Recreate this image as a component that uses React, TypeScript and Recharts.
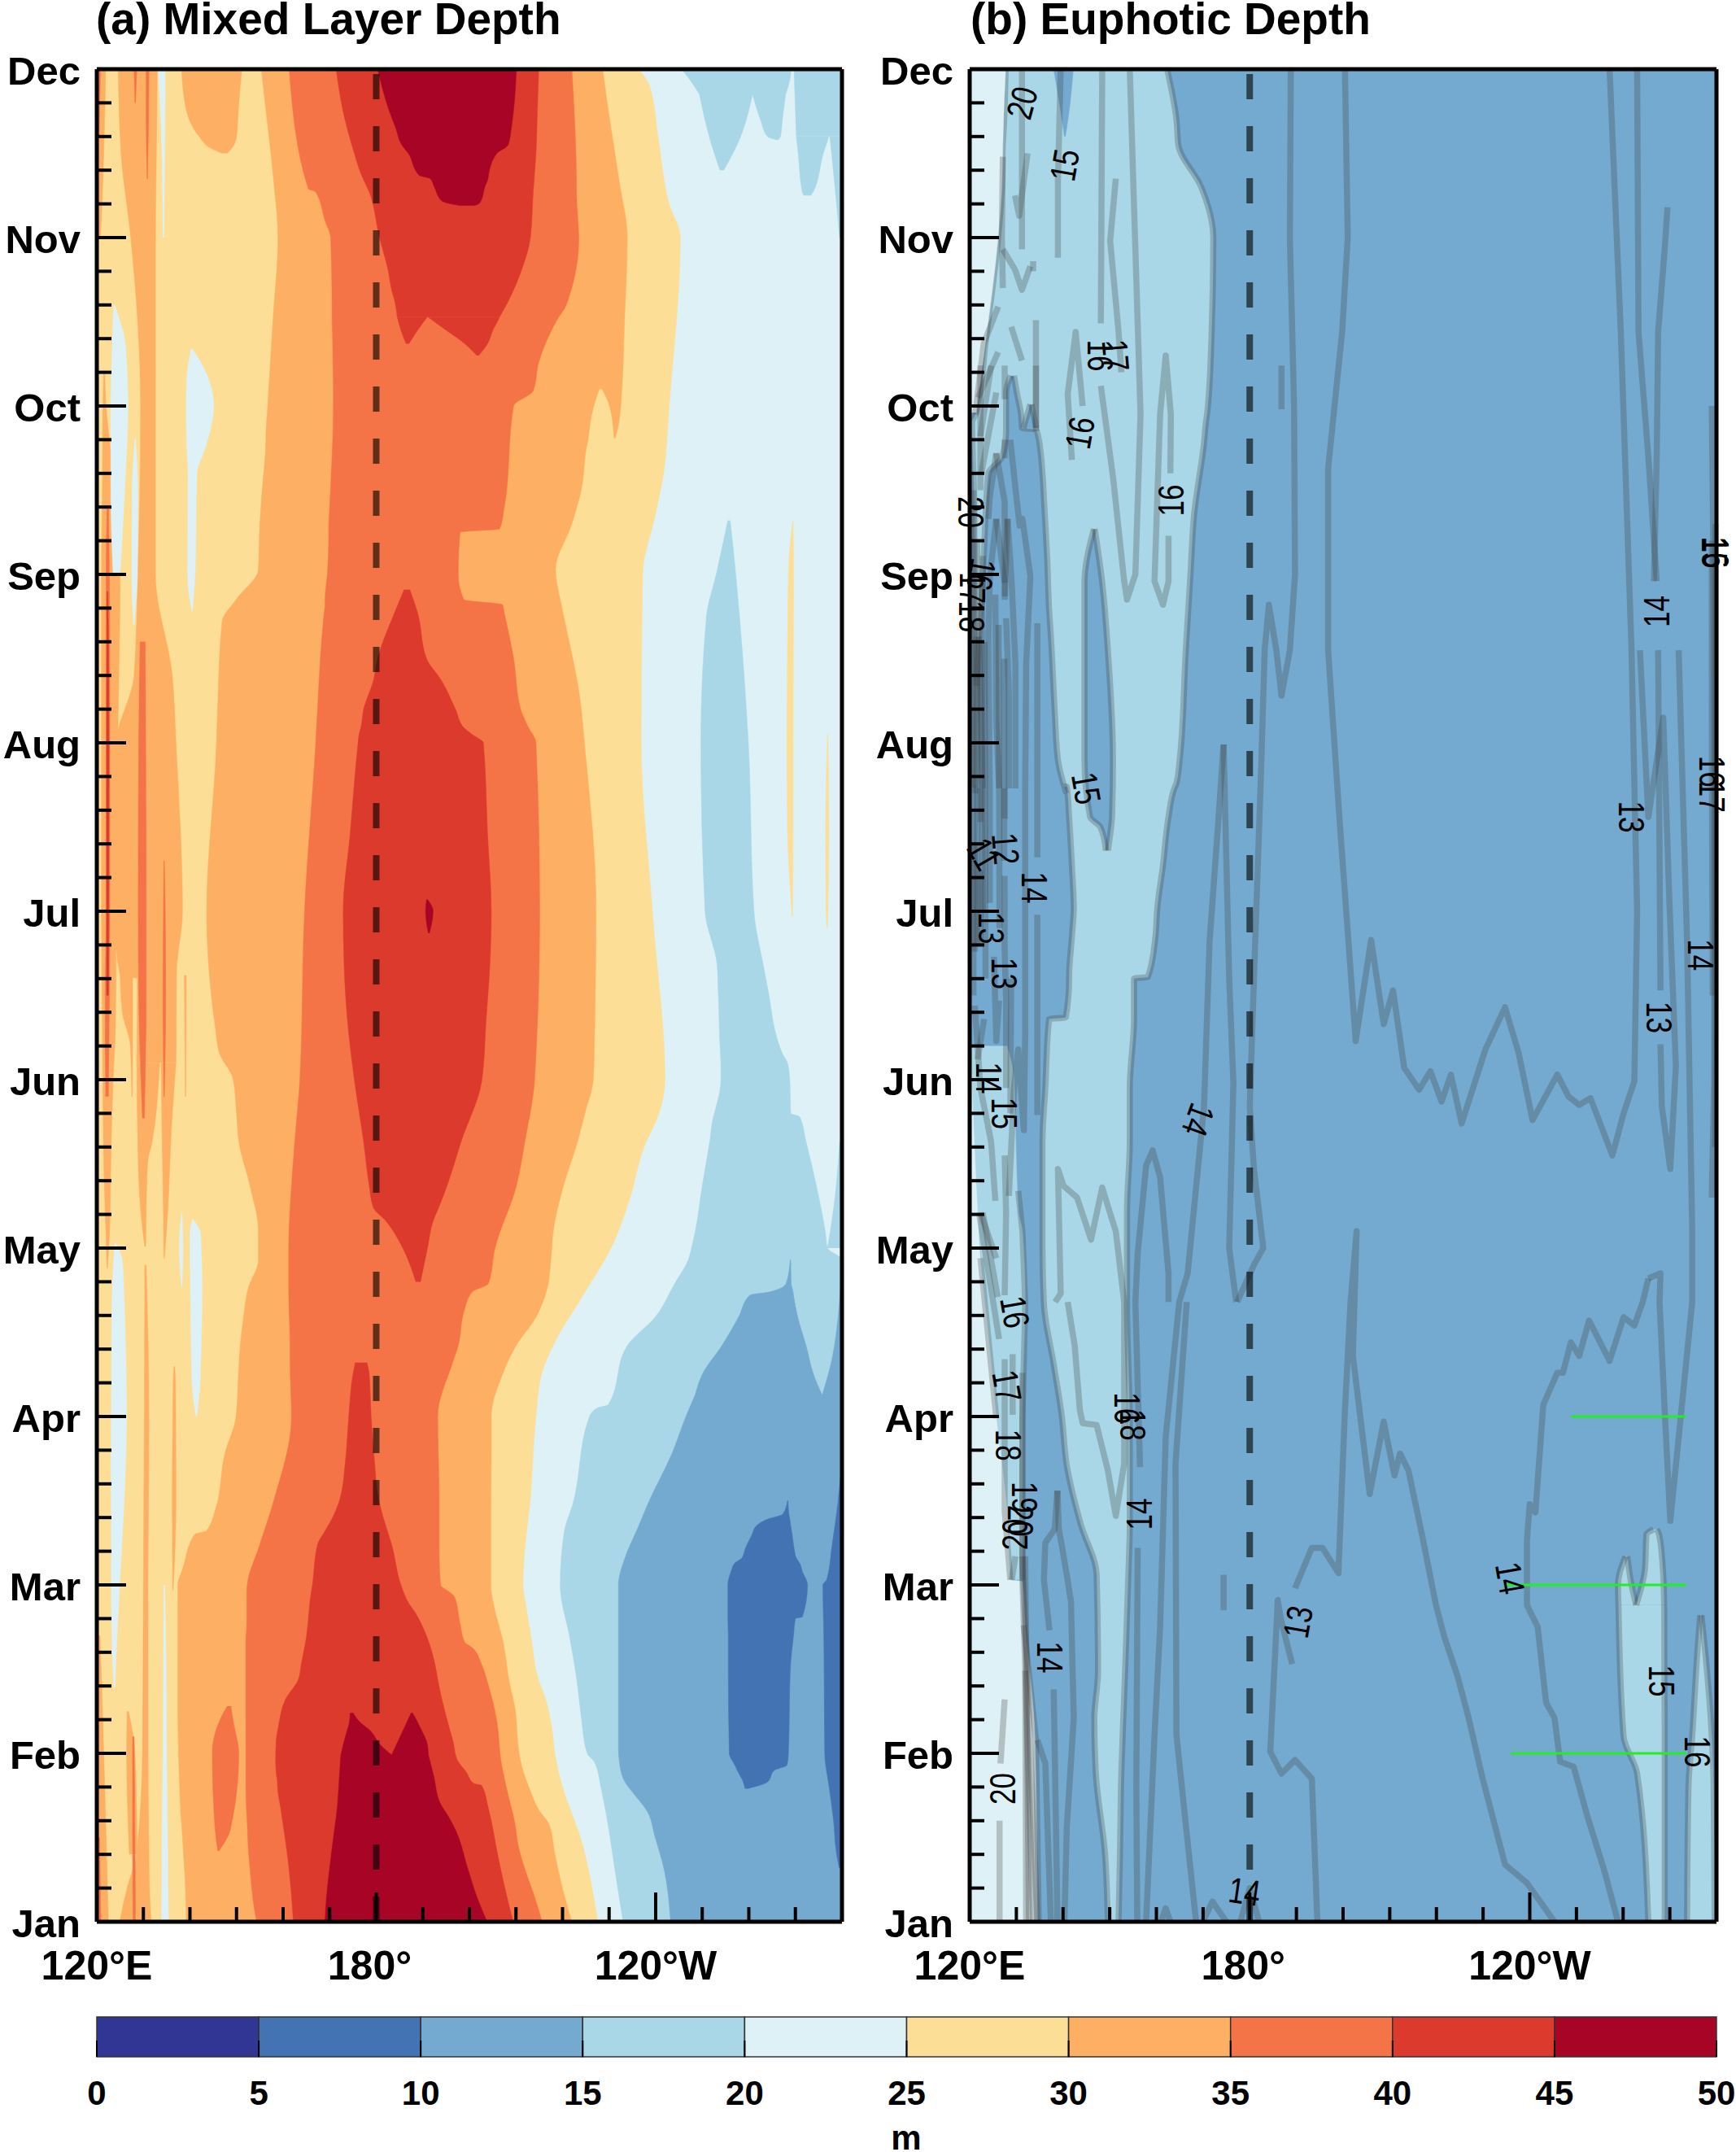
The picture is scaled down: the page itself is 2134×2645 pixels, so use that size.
import React from 'react';
import { Area, Bar, BarChart, ComposedChart, Line, XAxis, YAxis } from 'recharts';

type Span = [number, number, number];
type Pt = [number, number];

const monthNames = ['Jan', 'Feb', 'Mar', 'Apr', 'May', 'Jun', 'Jul', 'Aug', 'Sep', 'Oct', 'Nov', 'Dec'];
const monthTicks = [1, 1.2, 1.4, 1.6, 1.8, 2, 2.2, 2.4, 2.6, 2.8, 3, 3.2, 3.4, 3.6, 3.8, 4, 4.2, 4.4, 4.6, 4.8, 5, 5.2, 5.4, 5.6, 5.8, 6, 6.2, 6.4, 6.6, 6.8, 7, 7.2, 7.4, 7.6, 7.8, 8, 8.2, 8.4, 8.6, 8.8, 9, 9.2, 9.4, 9.6, 9.8, 10, 10.2, 10.4, 10.6, 10.8, 11, 11.2, 11.4, 11.6, 11.8, 12];
const lonTicks = [120, 130, 140, 150, 160, 170, 180, 190, 200, 210, 220, 230, 240, 250, 260, 270, 280];
const lonLabels: Record<number, string> = { 120: '120°E', 180: '180°', 240: '120°W' };

const barEdges = [0, 5, 10, 15, 20, 25, 30, 35, 40, 45, 50];
const barColors = ['#313594', '#4473b3', '#74aad0', '#a9d7e7', '#def1f7', '#fcde96', '#fdb063', '#f57447', '#dc3a2c', '#a80526'];
const [, C5, C10, C15, C20, C25, C30, C35, C40, C45] = barColors;

// panel (a): each contour patch is [month, west lon, east lon]
const mldFull: Span[] = [[1, 120, 280], [12, 120, 280]];
const mld25: Span[] = [[1, 120, 227.6], [1.22, 120, 226.2], [1.38, 120, 225], [1.53, 120, 223.5], [1.67, 120, 221.6], [1.82, 120, 219.8], [1.96, 120, 218.6], [2.15, 120, 217.7], [2.31, 120, 216.5], [2.45, 120, 214.7], [2.7, 120, 213.2], [2.9, 120, 212], [3, 120, 211.5], [3.24, 120, 212], [3.48, 120, 213], [4, 120, 214.3], [4.25, 120, 215.5], [4.45, 120, 218.5], [4.72, 120, 224.4], [5, 120, 230.4], [5.3, 120, 234.5], [5.6, 120, 237.5], [5.8, 120, 240.7], [6, 120, 242], [7, 120, 239.3], [8, 120, 236.9], [9, 120, 237.2], [9.35, 120, 239.9], [9.6, 120, 241.7], [10, 120, 242.9], [11, 120, 245.3], [11.2, 120, 242.9], [11.6, 120, 240.5], [11.9, 120, 238.7], [12, 120, 236.3]];
const mld30: Span[] = [[1, 139.2, 222], [1.22, 139, 219.8], [1.41, 138.6, 218.3], [1.58, 138.2, 217.1], [1.66, 138, 215], [1.79, 137.8, 212.9], [1.95, 137.6, 211], [2.06, 137.5, 210.4], [2.25, 137.4, 209.9], [2.42, 137.4, 208.6], [2.68, 137.4, 207.1], [2.87, 137.4, 205.3], [3, 137.4, 204.6], [3.1, 138.5, 204.6], [3.3, 141, 204.6], [3.32, 143.5, 204.6], [3.45, 145.5, 204.6], [3.78, 147.5, 204.7], [4, 149.9, 204.7], [4.25, 150.4, 207.1], [4.42, 150.8, 210], [4.59, 151.5, 214.3], [4.76, 152.5, 216.7], [4.93, 154.7, 217.5], [5.1, 154.7, 218], [5.37, 152.9, 220.2], [5.63, 150.5, 223.2], [5.8, 150, 224.8], [6, 149.3, 226.6], [6.16, 146.3, 226.8], [6.3, 145.5, 226.9], [7, 143.6, 227.2], [8, 145.7, 224.7], [8.25, 146, 223.8], [8.72, 146.9, 220.5], [8.85, 149.9, 219.5], [9.03, 154.7, 218.5], [9.3, 155, 222], [9.5, 155.5, 224], [9.8, 156.3, 225.5], [9.81, 156.3, 231.3], [10, 156.7, 232.5], [10.5, 157.8, 233.3], [11, 158.9, 233.9], [11.33, 158, 232.2], [11.76, 156.3, 229.8], [12, 155.3, 228.6]];
const mld30Patch: Span[] = [[11.5, 147, 148], [11.53, 144.5, 149], [11.6, 142, 150], [11.76, 139.2, 150.4], [12, 138.2, 151.1]];
const mld30West: Span[] = [[6.1, 128.6, 137], [6.6, 128.7, 137.1], [6.62, 125, 137.1], [7, 123.7, 138.4], [8, 124.2, 137], [8.4, 128, 136.2], [9, 128.8, 132.6], [10, 129.4, 132.6], [11, 127.3, 132.6], [11.5, 125.2, 132.8], [12, 124.6, 133]];
const mld30Leg: Span[] = [[5.9, 127.5, 127.6], [6.2, 127.2, 127.7], [6.4, 125.5, 127.7], [6.62, 125, 127.7]];
const mld30LobeA: Span[] = [[5.01, 130.3, 130.5], [5.2, 129.5, 130.6], [5.5, 128.9, 130.9], [5.65, 128.8, 132], [6, 128.6, 133.3], [6.1, 128.6, 133.5]];
const mld30LobeB: Span[] = [[4.94, 134.4, 134.5], [5.2, 134.3, 135.2], [5.7, 134, 136], [6.1, 133.8, 137]];
const mld30Jan: Span[] = [[1, 124.9, 131.7], [1.2, 126.5, 131.3], [1.4, 128.5, 131.2], [2, 129.8, 131], [3, 130, 131], [4, 130.2, 131.2], [4.9, 130.3, 130.6]];
const mld30JanLobe: Span[] = [[1.4, 127, 128.7], [2, 126.4, 128.2], [2.25, 126.5, 126.8]];
const mld30Edge: Span[] = [[4.88, 122.2, 122.3], [5.14, 121.9, 122.8], [5.5, 121.5, 123], [6, 121.3, 123.5], [6.3, 121.2, 124], [7, 121, 124.2], [8, 121, 124.5], [9, 121, 125], [9.5, 121.2, 124], [10, 121.3, 122], [10.2, 121.5, 121.7]];
const mld30EdgeJan: Span[] = [[1, 120.2, 122.5], [1.5, 120.2, 122], [2, 120.3, 121.5], [2.7, 120.3, 120.7]];
const mld30EdgeDec: Span[] = [[11, 120.3, 120.8], [11.5, 120.2, 121.5], [12, 120.2, 121.9]];
const mld30Sliver: Span[] = [[2.97, 136.3, 136.4], [3.5, 136.2, 137], [4.2, 136.4, 136.9], [4.3, 136.6, 136.7]];
const mld30Sliver2: Span[] = [[5.9, 139, 139.1], [6.62, 138.8, 139.2]];
const mld25Finger: Span[] = [[9.8, 225.6, 231], [10, 226.8, 230], [10.1, 228, 228.4]];
const mld35: Span[] = [[1, 154.3, 215.6], [1.14, 153.5, 214.1], [1.28, 153, 212.3], [1.45, 152.5, 210.5], [1.58, 152.3, 209.8], [1.79, 152, 208], [1.95, 152, 206.8], [2.19, 152, 205.9], [2.43, 152, 203.8], [2.53, 152, 202.6], [2.63, 152, 200.5], [2.66, 152, 199], [2.77, 152.2, 198], [2.93, 152.2, 196.8], [2.96, 152.2, 195.6], [3, 152.3, 193.8], [3.24, 155, 193.5], [3.5, 158, 193.5], [4, 161.8, 193.2], [4.32, 161.5, 196.4], [4.42, 161.5, 197.6], [4.62, 161.3, 198.8], [4.74, 161.2, 200.6], [4.79, 161.2, 204.1], [5, 161.2, 205.5], [5.37, 161.8, 210.1], [5.63, 162.5, 211.9], [6, 163.6, 214], [7, 164.6, 215.1], [8, 167, 214.3], [8.1, 167.2, 212.5], [8.2, 167.4, 211], [8.5, 168, 209.5], [8.77, 168.8, 207.5], [8.82, 169, 207.1], [8.85, 169, 198.8], [9, 169.5, 197.6], [9.25, 169.8, 198], [9.27, 169.8, 206.5], [9.4, 170, 207.5], [10, 170.8, 209.5], [10.09, 170.8, 213.7], [10.26, 170.7, 214.9], [10.43, 170.6, 217.3], [10.52, 170.5, 219], [10.6, 170.5, 220.8], [11, 170.2, 223.5], [11.1, 169, 223.3], [11.27, 167, 223], [11.29, 165.4, 223], [12, 161.3, 222]];
const mld35Blob: Span[] = [[1.42, 146, 146.2], [1.55, 145.4, 148.7], [2, 144.8, 150.5], [2.19, 146.3, 149.3], [2.28, 148, 148.8]];
const mld35Stripe: Span[] = [[5.77, 129.8, 130.2], [6.5, 129, 130.6], [7, 128.9, 130.6], [8, 129, 130.5], [8.6, 129.3, 130.4]];
const mld35Stripe2: Span[] = [[5.9, 134.4, 134.5], [6.5, 134.2, 134.8], [7, 134.3, 134.7], [7.3, 134.4, 134.5]];
const mld35Edge: Span[] = [[5.9, 121.9, 122.5], [6.5, 121.8, 122.7], [7, 122, 122.8], [8, 122, 122.8], [9, 122, 122.7], [9.4, 122.2, 122.5]];
const mld35EdgeJan: Span[] = [[1, 120.2, 120.9], [1.5, 120.2, 120.6]];
const mld35EdgeDec: Span[] = [[11.6, 120.2, 120.5], [12, 120.2, 120.8]];
const mld35Jan: Span[] = [[1, 127.8, 128.3], [1.5, 127.7, 128.2], [2.1, 127.7, 128]];
const mld35DecA: Span[] = [[11.35, 130.8, 130.9], [11.7, 130.6, 131.1], [12, 130.6, 131.2]];
const mld35DecB: Span[] = [[11.8, 128.2, 128.3], [12, 128, 128.6]];
const mld40Core: Span[] = [[6.5, 122.1, 122.5], [8, 122.1, 122.6], [8.9, 122.2, 122.4]];
const mld40Jan: Span[] = [[1, 162.2, 209.4], [1.19, 161.7, 207.7], [1.38, 161, 206.2], [1.67, 159.5, 204.1], [1.81, 158.8, 202.6], [1.82, 158.8, 201], [1.89, 158.5, 199.3], [1.96, 158.4, 197.4], [2.07, 158.5, 196.5], [2.16, 159, 195.6], [2.32, 160.5, 194.1], [2.44, 163.3, 193.2], [2.53, 163.9, 192.6], [2.69, 165, 190.9], [2.82, 165.5, 188.7], [2.91, 165.8, 186.6], [3, 166.3, 185.3], [3.24, 167.4, 183.3], [3.32, 169, 182.4], [3.41, 170.8, 181.4], [3.51, 172.2, 180.5], [3.74, 173.4, 179.6], [4, 174.1, 178.9], [4.25, 175, 178.5], [4.32, 175.5, 178]];
const mld40Mid: Span[] = [[4.8, 188.5, 189.5], [5, 185.7, 191], [5.16, 182.1, 192.2], [5.24, 179.4, 193.4], [5.37, 178.5, 195.2], [5.63, 177.3, 198.2], [6, 175.3, 202.7], [6.36, 173.8, 203.6], [6.68, 173.1, 204.4], [7, 172.9, 204.7], [7.46, 174.4, 203.9], [8, 176.1, 203], [8.05, 176.3, 200.6], [8.09, 176.7, 198.8], [8.2, 177.3, 197], [8.37, 179.4, 194], [8.5, 180.3, 190.8], [8.77, 183.9, 188.9], [8.91, 186, 187.2]];
const mld40Dec: Span[] = [[10.53, 184.5, 206.5], [10.62, 184, 208.3], [10.69, 183.3, 209.5], [10.8, 182.6, 211.1], [11, 180.7, 213.1], [11.27, 178.5, 213.7], [11.38, 176.7, 214], [11.5, 175.3, 214.3], [11.76, 172.8, 214.6], [12, 171.4, 214.9]];
const mld40DecA: Span[] = [[10.37, 186.4, 187], [10.45, 185.3, 188.9], [10.53, 184.5, 191]];
const mld40DecB: Span[] = [[10.3, 201.6, 202], [10.37, 199, 203.9], [10.46, 194.5, 205.2], [10.5, 192.5, 206], [10.53, 191, 206.5]];
const mld45Jan: Span[] = [[1, 169, 203.8], [1.14, 169.3, 201.7], [1.32, 170, 199.6], [1.54, 171, 197.1], [1.62, 171.4, 195.6], [1.7, 171.7, 193.8], [1.87, 172.1, 192.3], [1.99, 172.4, 191.2]];
const mld45JanA: Span[] = [[1.99, 172.4, 183.3], [2.05, 172.9, 180.9], [2.14, 173.8, 178.5], [2.18, 174.2, 176.7], [2.24, 174.4, 175]];
const mld45JanB: Span[] = [[1.99, 183.3, 191.2], [2.05, 184.3, 191], [2.15, 186, 189.5], [2.24, 187.5, 187.8]];
const mld45Jul: Span[] = [[6.87, 191.2, 191.4], [7, 190.6, 192.2], [7.07, 190.8, 191]];
const mld45Dec: Span[] = [[11.19, 198, 201], [11.2, 196, 202], [11.22, 194, 202.5], [11.3, 192.5, 203.3], [11.35, 191.6, 204], [11.37, 189.2, 204.1], [11.5, 186.9, 205.9], [11.55, 185.5, 208.3], [11.65, 184.2, 209], [11.76, 182.7, 209.5], [12, 180.3, 210.1]];
const mld20A: Span[] = [[2.39, 123.7, 123.9], [2.6, 123.3, 124.2], [3, 123.1, 124.9], [3.4, 123.1, 125.7], [3.72, 123, 126.2], [4, 123.1, 126.4], [4.59, 123.2, 126], [4.92, 123.6, 125.5], [5.03, 123.9, 124]];
const mld20B: Span[] = [[4, 141.3, 141.5], [4.22, 140.4, 142.2], [4.77, 140.1, 142.6], [5.08, 140, 142.3], [5.17, 140.5, 140.7]];
const mld20C: Span[] = [[4.77, 138.2, 138.3], [5, 137.7, 138.5], [5.21, 138.2, 138.3]];
const mld20D: Span[] = [[9, 123.5, 125], [9.5, 123, 126], [10, 123, 126.7], [10.35, 123.3, 126.2], [10.6, 123.6, 123.8]];
const mld20E: Span[] = [[8.7, 127.9, 128], [9, 127.5, 128.7], [9.5, 127.6, 128.8], [9.81, 128.2, 128.3]];
const mld20F: Span[] = [[8.78, 140.4, 140.5], [9, 139.5, 141.1], [9.6, 139.6, 141.5], [9.76, 139.3, 143.4], [10, 139.2, 145.1], [10.16, 139.3, 144], [10.34, 140.3, 140.5]];
const mld20G: Span[] = [[11, 134.2, 134.4], [11.5, 134, 134.6], [12, 133.2, 134.7]];
const mld20H: Span[] = [[1, 133.9, 135.4], [1.5, 134, 135.2], [2, 134.2, 135], [2.5, 134.3, 134.9], [3, 134.4, 134.6]];
const mld25SliverA: Span[] = [[6.97, 269.3, 269.4], [7.5, 268.3, 269.5], [8, 268.2, 269.5], [9, 268.5, 269.6], [9.32, 269.4, 269.5]];
const mld25SliverB: Span[] = [[6.9, 276.8, 276.9], [7, 276.6, 277], [7.5, 276.5, 277.2], [8.05, 276.9, 277]];
const mld15: Span[] = [[1, 233, 280], [1.3, 231.3, 280], [1.62, 229.5, 280], [1.79, 228.3, 280], [1.95, 226.8, 280], [2, 225.3, 280], [2.22, 224, 280], [2.43, 223.1, 280], [2.68, 221.6, 280], [3, 219.5, 280], [3.32, 220.4, 280], [3.48, 222.2, 280], [4, 225.8, 280], [4.05, 227.4, 280], [4.07, 229.8, 280], [4.42, 233.9, 280], [4.59, 239.9, 280], [4.79, 244.1, 280], [4.93, 247, 280], [5, 247.7, 276.9], [5.1, 248.5, 276.4], [5.37, 250, 274.5], [5.63, 251.6, 272.3], [5.78, 252.4, 270.9], [5.8, 252.6, 269], [6, 254, 268.8], [6.1, 254, 268.3], [6.15, 253.9, 267.3], [6.55, 253.4, 264], [6.68, 253.2, 263.1], [7, 250.6, 261.1], [8, 249.7, 259.9], [8.75, 250.9, 258], [9, 253, 257.2], [9.32, 255.5, 256]];
const mld15Wedge: Span[] = [[5, 276.9, 280], [5.3, 278.5, 280], [5.63, 279.5, 280]];
const mld15Dec: Span[] = [[11.85, 249.4, 267.9], [11.95, 247, 268.9], [12, 245.6, 269.1]];
const mld15DecA: Span[] = [[11.4, 253.8, 254.6], [11.57, 251.8, 257.8], [11.85, 249.4, 260.8]];
const mld15DecB: Span[] = [[11.58, 265.9, 266.3], [11.6, 264, 266.8], [11.7, 262.5, 267.2], [11.85, 260.8, 267.9]];
const mld15DecC: Span[] = [[11.6, 270.2, 280], [12, 269.7, 280]];
const mld15DecD: Span[] = [[11.25, 271.8, 273.3], [11.27, 271.5, 273.8], [11.5, 270.6, 276], [11.6, 270.2, 277.2]];
const mld15DecE: Span[] = [[11, 279.5, 280], [11.3, 278.5, 280], [11.6, 277.4, 280]];
const mld10: Span[] = [[1, 243.2, 280], [1.3, 241.9, 280], [1.51, 239.8, 280], [1.65, 238.3, 280], [1.77, 235, 280], [1.83, 233.4, 280], [1.95, 232.2, 280], [2.03, 232, 280], [3, 232, 280], [3.16, 233.4, 280], [3.34, 236.2, 280], [3.48, 238.3, 280], [3.78, 243.5, 280], [4, 246.5, 280], [4.13, 248.5, 280]];
const mld10A: Span[] = [[4.13, 248.5, 275.7], [4.25, 250, 273.9], [4.42, 254.2, 272.3], [4.59, 257.8, 270.5], [4.72, 260.2, 269.6], [4.74, 264.5, 269.5], [4.79, 268, 269.1], [4.93, 268.9, 269]];
const mld10B: Span[] = [[4.13, 275.8, 280], [4.36, 278, 280], [4.6, 279.2, 280], [4.9, 279.9, 280]];
const mld5: Span[] = [[1.79, 259.2, 259.6], [1.83, 258.8, 264], [1.9, 257.5, 265.5], [1.93, 257, 268.2], [2, 255.8, 268.5], [2.5, 255.6, 268.9], [2.7, 255.6, 269.6], [2.8, 255.5, 270], [2.81, 255.5, 271.5], [3, 255.5, 272.6], [3.08, 256.2, 271.5], [3.13, 257, 270.9], [3.16, 258.5, 270.2], [3.22, 259.3, 269.7], [3.3, 260.7, 269.3], [3.35, 261.6, 269], [3.39, 264, 268.8], [3.42, 267.3, 268.6], [3.5, 268.3, 268.4]];
const mld5East: Span[] = [[1.32, 279.4, 279.5], [1.41, 278.8, 280], [1.6, 278.2, 280], [1.79, 277.3, 280], [2, 276.3, 280], [2.7, 276.1, 280], [3, 275.9, 280], [3.03, 276.7, 280], [3.24, 277.9, 280], [3.48, 279.1, 280], [3.65, 279.7, 280]];

// panel (b) filled patches
const zeuFull: Span[] = [[1, 120, 280], [12, 120, 280]];
const zeu20Jan: Span[] = [[1, 120, 134.5], [2.08, 120, 134], [2.76, 120, 131.9], [3.02, 120, 131.3], [3.03, 120, 128.7], [3.44, 120, 128], [3.99, 120, 125.7], [4.4, 120, 124.3], [4.94, 120, 122.3], [5.21, 120, 121.7], [5.95, 120, 120.5], [6.3, 120, 120]];
const zeu20Dec: Span[] = [[9.96, 120, 121.4], [10.4, 120, 123.5], [11, 120, 126.1], [11.3, 120, 126.9], [11.55, 120, 127.1], [12, 120, 127.7]];
const zeu15: Span[] = [[1, 149.6, 151.9], [1.4, 149, 152.2], [1.89, 147, 152.5], [2.2, 146.7, 152.9], [2.49, 147.5, 153.3], [3.06, 147.2, 154], [3.36, 143.8, 154.3], [3.71, 140.8, 154.3], [4.01, 139.7, 154.3], [4.31, 138, 154], [4.67, 135.9, 153.7], [5, 135.6, 153.7], [5.21, 135.6, 153.7], [5.63, 135.6, 154.3], [5.95, 136.2, 154.3], [6.36, 137, 155.2], [6.37, 140.6, 155.2], [6.6, 141.3, 155.2], [6.61, 141.3, 158.2], [6.85, 141.9, 159.8], [7.02, 142.3, 160.2], [7.27, 141.9, 161.4], [7.56, 141.3, 162.6], [7.74, 140.8, 164], [7.75, 121, 164.2], [7.9, 121, 165], [8.55, 121, 166.3], [9, 121, 167.3], [9.36, 121, 168.1], [9.78, 120.6, 170.2], [9.9, 120.5, 170.6], [9.96, 121.4, 170.9], [10.4, 123.5, 171.8], [11, 126.1, 172.2], [11.3, 126.9, 169.6], [11.55, 127.1, 164.7], [11.7, 127.4, 164.3], [12, 127.7, 162.3]];
const zeu15West: Span[] = [[3.03, 128, 131.3], [3.99, 125, 131.3], [4.4, 124, 131.6], [4.67, 123, 131.9], [5.1, 122, 131.3], [5.21, 121.5, 130.5], [5.7, 120.5, 129.8], [6, 120.2, 129.5], [6.2, 120, 128]];
const zeu10West: Span[] = [[7.7, 121.2, 140.7], [7.9, 121.5, 138.9], [8.2, 121.5, 138.2], [8.63, 122, 137.4], [8.8, 122.5, 137], [9.1, 123, 136.6], [9.4, 123.5, 136], [9.6, 124, 135.6], [9.7, 127, 135.3], [9.86, 127.8, 134.3], [9.87, 127.8, 131.2], [9.95, 127.8, 131], [10.08, 127.8, 130.1], [10.18, 128.8, 129.5]];
const zeu10Bump: Span[] = [[9.87, 131.5, 134.3], [10.01, 133, 133.2]];
const zeu15Feb: Span[] = [[1, 265.4, 268.9], [1.88, 263, 268.9], [2.1, 260.1, 268.9], [2.88, 259, 268.8]];
const zeu15FebA: Span[] = [[2.88, 259, 262.8], [3, 258.9, 261.8], [3.17, 260.5, 260.9]];
const zeu15FebB: Span[] = [[2.88, 262.8, 268.8], [3.1, 264.7, 268.5], [3.3, 265, 267.7], [3.33, 266.5, 267.2]];
const zeu15East: Span[] = [[1, 273.7, 279.6], [1.8, 274, 279.4], [2.1, 274.8, 279], [2.6, 275.9, 277.6], [2.82, 276.5, 276.8]];
const zeu10Finger: Span[] = [[11.6, 140.3, 140.5], [11.75, 139.5, 141.3], [12, 138, 142.2]];
const zeu10Patch: Span[] = [[7.36, 149.2, 149.6], [7.5, 148, 150.3], [7.56, 145.8, 150.5], [7.9, 144.6, 150.7], [8.55, 144.6, 149.6], [8.95, 144.6, 148.4], [9.27, 146.6, 146.8]];

// panel (b) contour lines: [month, lon]
const zeuLine1: Pt[] = [[12, 200.4], [11, 201], [10.44, 199.8], [9.63, 196.8], [8.55, 196.8], [7.56, 199.2], [6.23, 202.7], [6.83, 206], [6.33, 208.7], [6.53, 210.7], [6.07, 213.1], [5.94, 216.3], [6.05, 218.7], [5.87, 221.1], [6.03, 223.1], [5.74, 225.4], [6.18, 230.5], [6.43, 234.7], [6.16, 237.6], [5.76, 240.6], [6.03, 245.9], [5.9, 248.3], [5.85, 250.6], [5.89, 253], [5.55, 257.7], [5.8, 260.1], [5.99, 262.4], [7, 263], [7.76, 262.4], [8.55, 261.8], [10.44, 259.5], [12, 257.1]];
const zeuLine3: Pt[] = [[12, 263], [10.44, 263.3], [9.7, 265.4], [8.96, 267.2]];
const zeuLine4: Pt[] = [[8.55, 263.6], [7.56, 265.4], [8.15, 268.6], [7.07, 269.9], [6.08, 271.3], [5.47, 270.1], [5.84, 268.3], [6.21, 268]];
const zeuLine5: Pt[] = [[6.53, 268], [8.55, 267.5]];
const zeuLine6: Pt[] = [[11.18, 269.5], [10.93, 268.9], [10.44, 267.5], [9.7, 267.2], [8.96, 266.6]];
const zeuLine7: Pt[] = [[8.55, 271.9], [6.82, 273.7], [5.1, 274.8], [4.68, 274.8], [4.04, 272.5], [3.38, 270.1], [4.04, 268.9], [4.68, 267.8], [4.85, 268], [4.82, 265.4]];
const zeuLine8: Pt[] = [[1, 258.9], [1.31, 255.9], [1.63, 252.3], [1.92, 249.4], [1.95, 246.5], [2.21, 245.3], [2.3, 243.5], [2.75, 241.7], [2.88, 239.4], [3.27, 239.4], [3.48, 240], [3.43, 241.2], [4.07, 242.9], [4.26, 245.9], [4.26, 247.1], [4.44, 248.8], [4.36, 250.6], [4.57, 252.7], [4.33, 257.1], [4.59, 260.1], [4.54, 262.4], [4.68, 264.2], [4.82, 265.4]];
const zeuLine9: Pt[] = [[1, 245.3], [1.23, 239.4], [1.34, 234.7], [1.85, 229.9], [2.21, 226.9], [2.46, 224.5], [2.69, 221.7], [2.88, 219.9], [3.3, 216.9], [3.68, 214], [3.78, 212.2], [3.65, 211], [3.97, 208.7], [3.54, 205.7], [4.36, 202.1], [5.1, 202.9], [4.68, 201.6], [4.04, 200.4], [3.07, 199], [3.22, 195.6], [3.22, 193.3], [2.98, 189.7]];
const zeuLine10: Pt[] = [[2.53, 189.1], [2.78, 186.8], [2.91, 186], [2.01, 184.4], [1.88, 186.8], [1.96, 189.7], [1.85, 193.3], [1, 194.5]];
const zeuLine12: Pt[] = [[7.99, 174.4], [7.51, 173.2], [6.82, 171.4], [5.84, 170.2], [4.85, 166.7], [4.68, 164.9], [3.88, 162], [2.75, 160.8], [2.11, 159.6], [1, 157.8]];
const zeuLine13: Pt[] = [[4.68, 166.5], [3.72, 164.1], [2.11, 164.3], [1.63, 166.1], [1, 168.5]];
const zeuLine15: Pt[] = [[12, 188.8], [11, 188.6], [10, 189.5], [9, 189.7], [8.55, 188.6], [8.28, 186.8], [8.55, 185.7], [8.82, 184.1], [8.55, 183.2], [7.81, 182.4], [6.6, 180.9], [5.84, 180], [5.47, 180.9], [5, 182.9], [4.9, 180.9], [4.68, 177.3]];
const zeuLine16: Pt[] = [[7.99, 174.4], [6.6, 175.6], [5.98, 176.5], [5, 175.6], [4.68, 177.1]];
const zeuLine17: Pt[] = [[10, 144.2], [10.44, 142.7], [10.07, 141], [9.68, 141.9]];
const zeuLine18: Pt[] = [[11.35, 151.3], [10.98, 150.1], [10.44, 151.9], [10.2, 152.5]];
const zeuLine19: Pt[] = [[12, 148.4], [10.49, 148.1]];
const zeuLine19b: Pt[] = [[10.12, 148.1], [9.58, 150.7], [8.96, 153.1], [8.85, 153.7], [9, 155.5], [9.95, 156.6], [12, 154.3]];
const zeuLine20: Pt[] = [[9.23, 162.6], [8.96, 162.6], [8.82, 161.4], [8.96, 159.6], [9.46, 160.2], [9.95, 160.8], [10.3, 162], [9.95, 163.1], [9.6, 163]];
const zeuLine21: Pt[] = [[12, 139.5], [11.33, 138.9], [10.88, 138.9]];
const zeuLine22: Pt[] = [[4.68, 138.3], [4.73, 139.5], [5.47, 138.9], [5.37, 140.1], [5.3, 143], [5.05, 146], [5.36, 148.4], [5.25, 149.6], [5.1, 151.3], [4.68, 153.1], [3.72, 153.1], [3.41, 151.3], [3.68, 149.6], [3.95, 147.2], [3.96, 144.2], [4.04, 143.6], [4.42, 142.5], [4.68, 141]];
const zeuLine23: Pt[] = [[4.68, 155.5], [3.7, 156.5]];
const zeuLine24: Pt[] = [[3.22, 156], [1.8, 155.7], [1, 155.9]];
const zeuLine25: Pt[] = [[4.68, 155.5], [4.97, 156], [5.49, 157.8], [5.58, 159.2], [5.42, 160.8], [4.85, 162.6], [4.68, 162.6]];
const zeuTopA: Pt[] = [[11.48, 127.1], [11.01, 126.9], [10.7, 127.1]];
const zeuTopB: Pt[] = [[12, 131.2], [10.93, 131.2]];
const zeuTopC: Pt[] = [[10.86, 133.6], [10.8, 133.6]];
const zeuTopD: Pt[] = [[10.51, 134.2], [9.85, 134.2]];
const zeuTopE: Pt[] = [[11.25, 129.7], [11.13, 130.6], [11.5, 132.4]];
const zeuTopF: Pt[] = [[10.93, 127.1], [10.81, 129.7], [10.69, 131.2], [10.83, 133]];
const zeuTopG: Pt[] = [[10.59, 126.1], [10.37, 123], [9.95, 121.2]];
const zeuTopH: Pt[] = [[10.47, 128.9], [10.27, 131.2]];
const zeuTopI: Pt[] = [[10.32, 126.1], [10.05, 121.8]];
const zeuWest1: Pt[] = [[10.24, 127.5], [10.04, 127.5]];
const zeuWest2: Pt[] = [[9.8, 127.5], [9.69, 127.5]];
const zeuWest3: Pt[] = [[10.24, 134.2], [9.87, 134.2]];
const zeuWest4: Pt[] = [[10.08, 125.7], [9.6, 122.5]];
const zeuWest5: Pt[] = [[10.24, 124.6], [9.82, 122.3]];
const zeuWest6: Pt[] = [[9.72, 125.7], [9.46, 124.3], [9.33, 124]];
const zeuWest7: Pt[] = [[9.72, 125.7], [9.43, 127.5], [8.87, 127.5]];
const zeuWest8: Pt[] = [[9.8, 128.7], [9.51, 129.8], [9.29, 130.7], [9.33, 131.3], [9.17, 132.1], [8.99, 133], [8.47, 132.1], [7.73, 131.9], [6.28, 131.9], [5.7, 131.6], [6.18, 130.4], [5.95, 129.5], [5.31, 128.4]];
const zeuWest9: Pt[] = [[9.33, 125.7], [8.98, 124.3], [8.63, 124], [7.73, 124.3], [7.05, 124.3]];
const zeuWest10: Pt[] = [[9.33, 125.7], [8.95, 127.5]];
const zeuWest11: Pt[] = [[9.33, 128.1], [8.95, 129], [8.47, 129.8], [7.73, 129.8]];
const zeuWest12: Pt[] = [[9.33, 128.1], [8.85, 127.5]];
const zeuWest13: Pt[] = [[8.88, 125.5], [8.14, 125.7], [7.73, 126.3]];
const zeuWest14: Pt[] = [[8.74, 127.8], [8.3, 128.4], [7.73, 128.4]];
const zeuWest15: Pt[] = [[8.71, 134.5], [7.32, 134.5]];
const zeuWest16: Pt[] = [[6.98, 134.5], [5.79, 134.5]];
const zeuWest17: Pt[] = [[8.63, 121.4], [8.34, 121.4]];
const zeuWest18: Pt[] = [[9.11, 122.8], [8.85, 122.8]];
const zeuWest19: Pt[] = [[10.24, 122.3], [9.5, 122.3]];
const zeuWest20: Pt[] = [[8.63, 122], [7.73, 122.8]];
const zeuWest21: Pt[] = [[7.73, 127.5], [7.55, 127.5]];
const zeuWest22: Pt[] = [[7.21, 127.5], [6.76, 127.5], [6.47, 127.8], [5.95, 127.8]];
const zeuWest23: Pt[] = [[6.73, 125.2], [6.23, 125.7], [6.47, 126.3]];
const zeuWest24: Pt[] = [[7.73, 122.3], [7.53, 122.3]];
const zeuWest25: Pt[] = [[7.4, 121.1], [6.76, 121.1]];
const zeuWest26: Pt[] = [[7.24, 122.3], [6.79, 122.3]];
const zeuWest27: Pt[] = [[6.36, 123.1], [6.12, 121.7]];
const zeuWest28: Pt[] = [[6.44, 121.1], [5.95, 122.3], [5.63, 124.6], [5.28, 125.5]];
const zeuWest29: Pt[] = [[5.55, 127.5], [5.21, 127.8], [4.72, 127.5]];
const zeuWest30: Pt[] = [[5.34, 130.4], [5.1, 131.3], [4.67, 131.9], [3.99, 131.3], [3.03, 131.3]];
const zeuWest31: Pt[] = [[4.94, 125.7], [5.21, 122.3]];
const zeuWest32: Pt[] = [[4.71, 126], [5.21, 122.8]];
const zeuWest33: Pt[] = [[4.46, 126.3], [5.21, 122]];
const zeuWest34: Pt[] = [[3.99, 125.7], [4.94, 122.3]];
const zeuWest35: Pt[] = [[3.03, 128.7], [3.44, 127.5], [4.34, 127.5]];
const zeuWest36: Pt[] = [[4.26, 131.3], [3.03, 131.3]];
const zeuWest37: Pt[] = [[4.37, 129.2], [4.01, 129.2]];
const zeuWest38: Pt[] = [[3.17, 131.3], [1, 134.5]];
const zeuWest39: Pt[] = [[3.17, 131.9], [1, 132.7]];
const zeuWest40: Pt[] = [[3.03, 131.3], [1, 133.6]];
const zeuWest41: Pt[] = [[2.76, 131.6], [2.08, 134.2], [1, 134.8]];
const zeuWest42: Pt[] = [[2.49, 131.9], [1, 132.1]];
const zeuWest43: Pt[] = [[2.08, 134.5], [1.94, 136.2], [1, 137.4]];
const zeuWest44: Pt[] = [[2.32, 127.5], [1.94, 126.6]];
const zeuWest45: Pt[] = [[1.6, 126.4], [1, 126.4]];
const zeuWest46: Pt[] = [[3.03, 129], [3.17, 129.8]];
const zeuWest47: Pt[] = [[3.56, 138.8], [3.33, 138.2], [3.25, 136.2], [3.03, 135.9], [2.73, 137.1]];
const zeuWest48: Pt[] = [[2.38, 138], [1.55, 138.5], [1, 138.8]];
const zeuWest49: Pt[] = [[3.56, 138.8], [3.33, 139.1], [3.24, 139.7], [3.06, 140.8], [2.9, 141.7], [2.21, 142.3], [1.56, 140.8], [1, 140.3]];
const zeuDark1: Pt[] = [[9.5, 120.8], [6.5, 120.8]];
const zeuDark2: Pt[] = [[9.2, 121.6], [6.8, 121.6]];
const zeuDark3: Pt[] = [[9, 122.6], [7, 122.8]];
const zeuDark4: Pt[] = [[8.7, 126.2], [6.9, 126.4]];
const zeuDark5: Pt[] = [[8.6, 123.2], [6.6, 123.4]];
const zeuDark6: Pt[] = [[8.5, 127.4], [7.3, 127.4]];
const zeuDark7: Pt[] = [[6.6, 128.9], [5.8, 128.7]];
const zeuIsland: Pt[] = [[3.06, 174.4], [2.85, 174.4]];
const zeuIsland2: Pt[] = [[10.24, 186.8], [9.98, 186.8]];
const zeuLoopA: Pt[] = [[1, 161], [1.08, 162], [1, 163]];
const zeuLoopB: Pt[] = [[1, 170], [1.12, 172], [1, 175]];
const zeuLoopC: Pt[] = [[1, 178], [1.2, 180], [1, 182]];
const zeuEast1: Pt[] = [[10, 279], [9.2, 279.3], [8, 279.5], [6, 279.5], [5.3, 279]];
const zeuEast2: Pt[] = [[9.3, 279.8], [7, 279.8], [5.6, 279.7]];
const zeuEast3: Pt[] = [[9.2, 279], [8, 279], [6.5, 279.2]];
const greenApr: Pt[] = [[4, 248.9], [4, 273.5]];
const greenMar: Pt[] = [[3, 234.6], [3, 273.5]];
const greenFeb: Pt[] = [[2, 236], [2, 273.5]];
const dateLine: Pt[] = [[12, 180], [1, 180]];

// contour labels: [month, lon, text, rotation]
const zeuLabels: [number, number, string, number][] = [
  [11.8, 131.2, '20', -75], [11.43, 140.3, '15', -80], [10.3, 151.3, '17', 85], [10.3, 148, '16', 90], [9.84, 143.6, '16', -80], [9.44, 163.1, '16', -90],
  [9.37, 120.2, '20', 90], [9, 122.5, '16', 100], [8.92, 120.6, '17', 90], [8.75, 120.4, '18', 90], [8.78, 267.2, '14', -90], [9.13, 279.6, '15', 90], [9.13, 280, '16', 90],
  [7.73, 145, '15', 80], [7.37, 127.7, '12', 85], [7.34, 123, '11', 60], [7.14, 133.9, '14', 90], [6.9, 124.7, '13', 90], [6.63, 127.4, '13', 90], [6.01, 124.1, '14', 90], [5.8, 127.4, '15', 90],
  [5.76, 169, '14', 110], [7.56, 261.8, '13', 90], [6.37, 267.8, '13', 90], [6.74, 276.6, '14', 90], [7.83, 279, '16', 90], [7.68, 279, '17', 90],
  [4.62, 129.7, '16', 80], [4.18, 128, '17', 80], [3.83, 128.3, '18', 90], [3.52, 131.8, '19', 90], [3.38, 130.9, '20', 90], [3.3, 129.7, '20', -90],
  [4.05, 153.7, '16', 90], [3.95, 155, '18', 90], [3.42, 156.3, '14', -90], [2.78, 190.3, '13', -80], [2.57, 137.1, '14', 90], [3.04, 235.8, '14', 80],
  [2.43, 268.3, '15', 90], [2.01, 276, '16', 90], [1.79, 127.1, '20', -90], [1.18, 178.9, '14', 8],
];

const mldLayers: [string, Span[]][] = [
  [C20, mldFull], [C25, mld25], [C30, mld30], [C30, mld30Patch], [C30, mld30West], [C30, mld30Leg], [C30, mld30LobeA], [C30, mld30LobeB], [C30, mld30Jan], [C30, mld30JanLobe],
  [C30, mld30Edge], [C30, mld30EdgeJan], [C30, mld30EdgeDec], [C30, mld30Sliver], [C30, mld30Sliver2], [C25, mld25Finger], [C35, mld35], [C35, mld35Blob], [C35, mld35Stripe], [C35, mld35Stripe2],
  [C35, mld35Edge], [C35, mld35EdgeJan], [C35, mld35EdgeDec], [C35, mld35Jan], [C35, mld35DecA], [C35, mld35DecB], [C40, mld40Core], [C40, mld40Jan], [C40, mld40Mid], [C40, mld40Dec], [C40, mld40DecA], [C40, mld40DecB],
  [C45, mld45Jan], [C45, mld45JanA], [C45, mld45JanB], [C45, mld45Jul], [C45, mld45Dec], [C20, mld20A], [C20, mld20B], [C20, mld20C], [C20, mld20D], [C20, mld20E], [C20, mld20F], [C20, mld20G], [C20, mld20H],
  [C25, mld25SliverA], [C25, mld25SliverB], [C15, mld15], [C15, mld15Wedge], [C15, mld15Dec], [C15, mld15DecA], [C15, mld15DecB], [C15, mld15DecC], [C15, mld15DecD], [C15, mld15DecE],
  [C10, mld10], [C10, mld10A], [C10, mld10B], [C5, mld5], [C5, mld5East],
];
const zeuLayers: [string, Span[]][] = [
  [C10, zeuFull], [C15, zeu15], [C15, zeu15West], [C20, zeu20Jan], [C20, zeu20Dec], [C10, zeu10West], [C10, zeu10Bump], [C15, zeu15Feb], [C15, zeu15FebA], [C15, zeu15FebB], [C15, zeu15East], [C10, zeu10Finger], [C10, zeu10Patch],
];
const zeuLines: Pt[][] = [
  zeuLine1, zeuLine3, zeuLine4, zeuLine5, zeuLine6, zeuLine7, zeuLine8, zeuLine9, zeuLine10, zeuLine12, zeuLine13, zeuLine15, zeuLine16, zeuLine17, zeuLine18, zeuLine19, zeuLine19b, zeuLine20, zeuLine21, zeuLine22, zeuLine23, zeuLine24, zeuLine25,
  zeuTopA, zeuTopB, zeuTopC, zeuTopD, zeuTopE, zeuTopF, zeuTopG, zeuTopH, zeuTopI,
  zeuWest1, zeuWest2, zeuWest3, zeuWest4, zeuWest5, zeuWest6, zeuWest7, zeuWest8, zeuWest9, zeuWest10, zeuWest11, zeuWest12, zeuWest13, zeuWest14, zeuWest15, zeuWest16, zeuWest17, zeuWest18, zeuWest19, zeuWest20, zeuWest21, zeuWest22, zeuWest23, zeuWest24, zeuWest25, zeuWest26, zeuWest27, zeuWest28, zeuWest29, zeuWest30, zeuWest31, zeuWest32, zeuWest33, zeuWest34, zeuWest35, zeuWest36, zeuWest37, zeuWest38, zeuWest39, zeuWest40, zeuWest41, zeuWest42, zeuWest43, zeuWest44, zeuWest45, zeuWest46, zeuWest47, zeuWest48, zeuWest49,
  zeuDark1, zeuDark2, zeuDark3, zeuDark4, zeuDark5, zeuDark6, zeuDark7,
  zeuIsland, zeuIsland2, zeuLoopA, zeuLoopB, zeuLoopC, zeuEast1, zeuEast2, zeuEast3,
];
const zeuOutlined = [zeu15, zeu10West, zeu10Bump, zeu15Feb, zeu15FebA, zeu15FebB, zeu15East, zeu10Patch];

const FONT = '"Liberation Sans", Arial, sans-serif';
const LINE_COLOR = '#3c3c3c';
const isMajorMonth = (m: number) => Number.isInteger(m);

const toArea = (s: Span[]) => s.map(([month, lo, hi]) => ({ month, range: [lo, hi] }));
const toLine = (s: Pt[]) => s.map(([month, lon]) => ({ month, lon }));

const leftMonthTick = ({ x, y, payload }: any) => {
  const major = isMajorMonth(payload.value);
  return (
    <g>
      <line x1={x} x2={x + (major ? 36 : 18)} y1={y} y2={y} stroke="#000" strokeWidth={4} />
      {major && (
        <text x={x - 20} y={y + 2} textAnchor="end" dominantBaseline="central" fontFamily={FONT} fontWeight="bold" fontSize={49}>
          {monthNames[payload.value - 1]}
        </text>
      )}
    </g>
  );
};
const rightMonthTick = ({ x, y, payload }: any) => (
  <line x1={x} x2={x - (isMajorMonth(payload.value) ? 36 : 18)} y1={y} y2={y} stroke="#000" strokeWidth={4} />
);
const bottomLonTick = ({ x, y, payload }: any) => {
  const label = lonLabels[payload.value];
  return (
    <g>
      <line x1={x} x2={x} y1={y} y2={y - (label ? 36 : 18)} stroke="#000" strokeWidth={4} />
      {label && (
        <text x={payload.value === 180 ? x - 8 : x} y={y + 54} textAnchor="middle" dominantBaseline="central" fontFamily={FONT} fontWeight="bold" fontSize={50}>
          {label}
        </text>
      )}
    </g>
  );
};
const topLonTick = ({ x, y, payload }: any) => (
  <line x1={x} x2={x} y1={y} y2={y + (lonLabels[payload.value] ? 36 : 18)} stroke="#000" strokeWidth={4} />
);
const barTick = ({ x, y, payload }: any) => (
  <g>
    <line x1={x} x2={x} y1={y} y2={y - 20} stroke="#000" strokeWidth={2} />
    <text x={x} y={y + 44} textAnchor="middle" dominantBaseline="central" fontFamily={FONT} fontWeight="bold" fontSize={42}>
      {payload.value}
    </text>
  </g>
);
const contourLabel = ({ cx, cy, payload, key }: any) => (
  <text key={key} transform={`translate(${cx} ${cy}) rotate(${payload.angle}) scale(1 1.27)`} textAnchor="middle" dominantBaseline="central" fontFamily={FONT} fontSize={35} fill="#000">
    {payload.text}
  </text>
);

const axisLine = { stroke: '#000', strokeWidth: 5 };

const Panel = ({ width, marginLeft, plotWidth, layers, lines, outlined, labels, green }: any) => (
  <ComposedChart
    width={width}
    height={2460}
    layout="vertical"
    data={toLine(dateLine)}
    margin={{ top: 84, right: width - marginLeft - plotWidth - 1, bottom: 97, left: marginLeft - 1 }}
  >
    <XAxis xAxisId={0} type="number" dataKey="lon" domain={[120, 280]} ticks={lonTicks} interval={0} height={1} tickSize={0} tickMargin={0} tickLine={false} axisLine={axisLine} tick={bottomLonTick} />
    <XAxis xAxisId="top" orientation="top" type="number" domain={[120, 280]} ticks={lonTicks} interval={0} height={1} tickSize={0} tickMargin={0} tickLine={false} axisLine={axisLine} tick={topLonTick} />
    <YAxis yAxisId={0} type="number" dataKey="month" domain={[1, 12]} reversed ticks={monthTicks} interval={0} width={1} tickSize={0} tickMargin={0} tickLine={false} axisLine={axisLine} tick={leftMonthTick} />
    <YAxis yAxisId="right" orientation="right" type="number" domain={[1, 12]} reversed ticks={monthTicks} interval={0} width={1} tickSize={0} tickMargin={0} tickLine={false} axisLine={axisLine} tick={rightMonthTick} />
    {layers.map(([color, spans]: [string, Span[]], i: number) => {
      const edged = outlined?.includes(spans);
      return (
        <Area
          key={i}
          data={toArea(spans)}
          dataKey="range"
          type="monotone"
          fill={color}
          fillOpacity={1}
          stroke={edged ? LINE_COLOR : color}
          strokeOpacity={edged ? 0.27 : 1}
          strokeWidth={edged ? 7.5 : 0.5}
          dot={false}
          activeDot={false}
          isAnimationActive={false}
        />
      );
    })}
    {lines?.map((pts: Pt[], i: number) => (
      <Line key={i} data={toLine(pts)} dataKey="lon" type="linear" stroke={LINE_COLOR} strokeOpacity={0.27} strokeWidth={7.5} strokeLinejoin="round" dot={false} activeDot={false} isAnimationActive={false} />
    ))}
    <Line data={toLine(dateLine)} dataKey="lon" type="linear" stroke="#000" strokeOpacity={0.6} strokeWidth={8} strokeDasharray="31 33" strokeDashoffset={58} dot={false} activeDot={false} isAnimationActive={false} />
    {green?.map((pts: Pt[], i: number) => (
      <Line key={i} data={toLine(pts)} dataKey="lon" type="linear" stroke="#22ee22" strokeWidth={3} dot={false} activeDot={false} isAnimationActive={false} />
    ))}
    {labels && (
      <Line
        data={labels.map(([month, lon, text, angle]: any) => ({ month, lon, text, angle }))}
        dataKey="lon"
        stroke="none"
        dot={contourLabel}
        activeDot={false}
        isAnimationActive={false}
      />
    )}
  </ComposedChart>
);

const barRow = [Object.fromEntries(barColors.map((_, i) => [`b${i}`, barEdges[i + 1] - barEdges[i]]))];

const titleStyle: React.CSSProperties = {
  position: 'absolute', top: 0, fontFamily: FONT, fontWeight: 'bold', fontSize: 55, lineHeight: '46px', whiteSpace: 'nowrap',
};

const App = () => (
  <div style={{ position: 'absolute', left: 0, top: 0, width: 2134, height: 2645, background: '#fff', overflow: 'hidden' }}>
    <div style={{ ...titleStyle, left: 118 }}>(a) Mixed Layer Depth</div>
    <div style={{ ...titleStyle, left: 1193 }}>(b) Euphotic Depth</div>
    <div style={{ position: 'absolute', left: 0, top: 0 }}>
      <Panel width={1060} marginLeft={119} plotWidth={916} layers={mldLayers} />
    </div>
    <div style={{ position: 'absolute', left: 1070, top: 0 }}>
      <Panel width={1064} marginLeft={122} plotWidth={918} layers={zeuLayers} lines={zeuLines} outlined={zeuOutlined} labels={zeuLabels} green={[greenApr, greenMar, greenFeb]} />
    </div>
    <div style={{ position: 'absolute', left: 0, top: 2450 }}>
      <BarChart width={2134} height={160} layout="vertical" data={barRow} barCategoryGap={0} margin={{ top: 29, right: 24, bottom: 81, left: 119 }}>
        <XAxis type="number" domain={[0, 50]} ticks={barEdges} interval={0} height={1} tickSize={0} tickMargin={0} tickLine={false} axisLine={false} tick={barTick} />
        <YAxis type="category" hide width={0} />
        {barColors.map((color, i) => (
          <Bar key={color} dataKey={`b${i}`} stackId="cb" fill={color} stroke="#333" strokeWidth={1.5} isAnimationActive={false} />
        ))}
      </BarChart>
    </div>
    <div style={{ position: 'absolute', left: 1064, width: 100, top: 2613, textAlign: 'center', fontFamily: FONT, fontWeight: 'bold', fontSize: 42, lineHeight: '30px' }}>m</div>
  </div>
);

export default App;
